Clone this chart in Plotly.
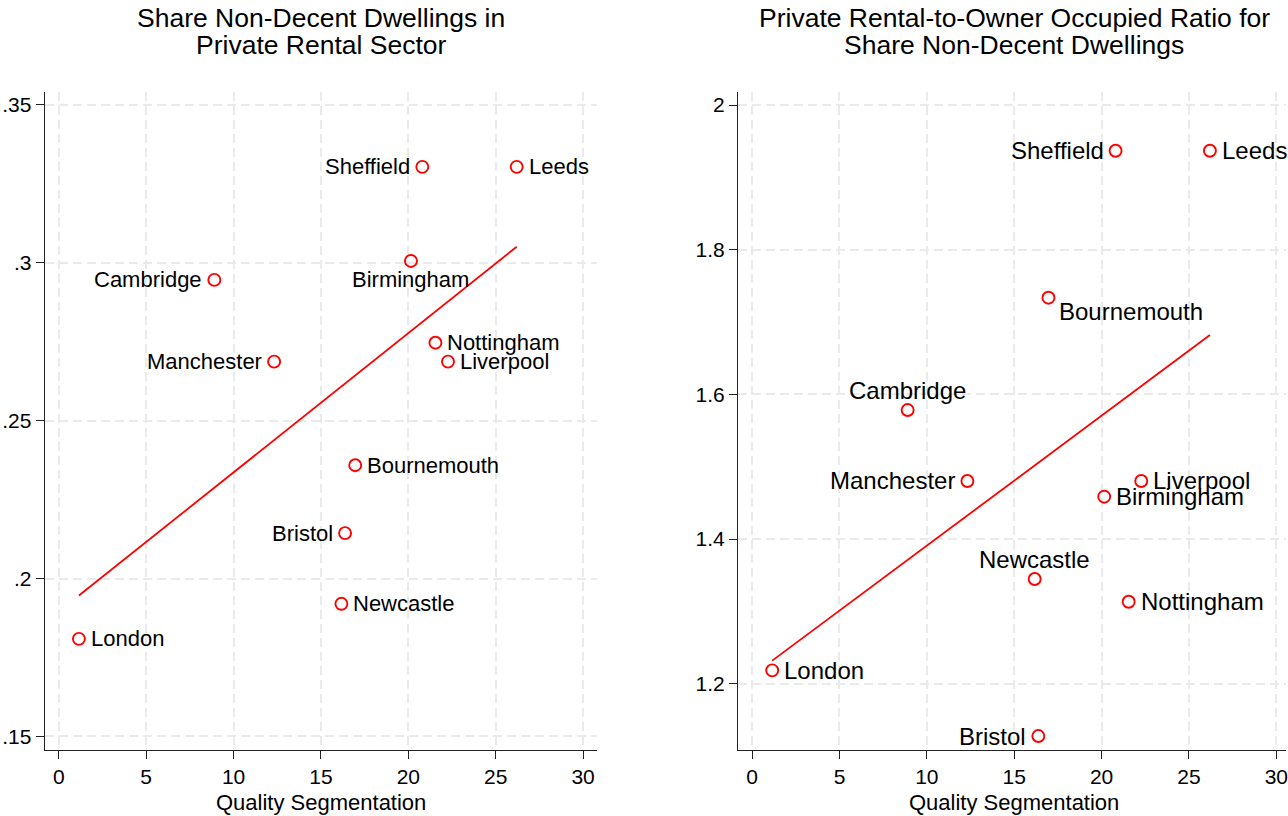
import numpy as np
import plotly.graph_objects as go

# ---------------- data ----------------
cities = ["London", "Cambridge", "Manchester", "Sheffield", "Leeds", "Birmingham",
          "Nottingham", "Liverpool", "Bournemouth", "Bristol", "Newcastle"]
quality_seg = [1.15, 8.9, 12.32, 20.8, 26.2, 20.15, 21.55, 22.27, 16.96, 16.38, 16.17]
share_non_decent_prs = [0.1809, 0.2946, 0.2687, 0.3304, 0.3304, 0.3006, 0.2747,
                        0.2687, 0.2359, 0.2144, 0.1920]
ratio_prs_to_owner = [1.2184, 1.5783, 1.4802, 1.9368, 1.9368, 1.4585, 1.3133,
                      1.4802, 1.7336, 1.1276, 1.3447]

x_ticks = [0, 5, 10, 15, 20, 25, 30]
left_y_ticks = [0.15, 0.2, 0.25, 0.3, 0.35]
left_y_ticktext = [".15", ".2", ".25", ".3", ".35"]
right_y_ticks = [1.2, 1.4, 1.6, 1.8, 2.0]
right_y_ticktext = ["1.2", "1.4", "1.6", "1.8", "2"]

left_title = ["Share Non-Decent Dwellings in", "Private Rental Sector"]
right_title = ["Private Rental-to-Owner Occupied Ratio for", "Share Non-Decent Dwellings"]
x_title = "Quality Segmentation"

# label placement (style)
left_pos = {"London": "r", "Cambridge": "l", "Manchester": "l", "Sheffield": "l",
            "Leeds": "r", "Birmingham": "b", "Nottingham": "r", "Liverpool": "r",
            "Bournemouth": "r", "Bristol": "l", "Newcastle": "r"}
right_pos = {"London": "r", "Cambridge": "t", "Manchester": "l", "Sheffield": "l",
             "Leeds": "r", "Birmingham": "r", "Nottingham": "r", "Liverpool": "r",
             "Bournemouth": "br", "Bristol": "l", "Newcastle": "t"}

FONT = "Liberation Sans, Arial, sans-serif"
RED = "#ff0000"
W, H = 1288, 816

fig = go.Figure()


def add_panel(xs, ys, xa, ya, pos, label_size):
    xs = np.array(xs)
    ys = np.array(ys)
    b, a = np.polyfit(xs, ys, 1)
    fx = np.array([xs.min(), xs.max()])
    fig.add_trace(go.Scatter(x=fx, y=a + b * fx, mode="lines",
                             line=dict(color=RED, width=1.8),
                             xaxis=xa, yaxis=ya, hoverinfo="skip", showlegend=False))
    fig.add_trace(go.Scatter(x=xs, y=ys, mode="markers",
                             marker=dict(symbol="circle-open", size=12,
                                         color=RED, line=dict(width=1.9, color=RED)),
                             xaxis=xa, yaxis=ya, showlegend=False, text=cities))
    for c, x, y in zip(cities, xs, ys):
        p = pos[c]
        kw = dict(xanchor="center", xshift=0, yshift=0)
        if p == "r":
            kw = dict(xanchor="left", xshift=10, yshift=0)
        elif p == "l":
            kw = dict(xanchor="right", xshift=-10, yshift=0)
        elif p == "b":
            kw = dict(xanchor="center", xshift=0, yshift=-19)
        elif p == "t":
            kw = dict(xanchor="center", xshift=0, yshift=19.5)
        elif p == "br":
            kw = dict(xanchor="left", xshift=9, yshift=-13.5)
        fig.add_annotation(x=x, y=y, xref=xa, yref=ya, text=c, showarrow=False,
                           yanchor="middle", font=dict(family=FONT, size=label_size,
                                                       color="black"), **kw)


add_panel(quality_seg, share_non_decent_prs, "x", "y", left_pos, 22)
add_panel(quality_seg, ratio_prs_to_owner, "x2", "y2", right_pos, 24)

ydom = [(H - 750) / H, (H - 91.7) / H]
ldom = [44.9 / W, 598 / W]
rdom = [739.3 / W, 1.0]

common = dict(showgrid=True, gridcolor="#eaeaea", griddash="9px,5px", gridwidth=1.5,
              showline=True, linecolor="#222222", linewidth=1.3, ticks="outside",
              ticklen=8, tickwidth=1.3, tickcolor="#222222", zeroline=False,
              ticklabeloverflow="allow",
              tickfont=dict(family=FONT, size=21, color="black"))

fig.update_layout(
    width=W, height=H, margin=dict(l=0, r=0, t=0, b=0),
    paper_bgcolor="white", plot_bgcolor="white", showlegend=False,
    font=dict(family=FONT, color="black"),
    xaxis=dict(domain=ldom, range=[-0.8, 30.8], anchor="y", tickvals=x_ticks, **common),
    yaxis=dict(domain=ydom, range=[0.1457, 0.3542], anchor="x", tickvals=left_y_ticks,
               ticktext=left_y_ticktext, **common),
    xaxis2=dict(domain=rdom, range=[-0.8, (W - 753.3) / 17.5], anchor="y2",
                tickvals=x_ticks, **common),
    yaxis2=dict(domain=ydom, range=[1.1083, 2.0184], anchor="x2", tickvals=right_y_ticks,
                ticktext=right_y_ticktext, **common),
)

# titles
for cx, lines in [(321.5, left_title), (1016, right_title)]:
    for ly, t in zip([17.5, 44.5], lines):
        fig.add_annotation(x=cx / W, y=(H - ly) / H, xref="paper", yref="paper",
                           text=t, showarrow=False, xanchor="center", yanchor="middle",
                           font=dict(family=FONT, size=26.5, color="black"))
    fig.add_annotation(x=cx / W, y=(H - 802) / H, xref="paper", yref="paper",
                       text=x_title, showarrow=False, xanchor="center", yanchor="middle",
                       font=dict(family=FONT, size=22, color="black"))

fig.write_html("out.html", config={"displayModeBar": False},
               post_script="document.body.style.margin='0';document.body.style.overflow='hidden';")
